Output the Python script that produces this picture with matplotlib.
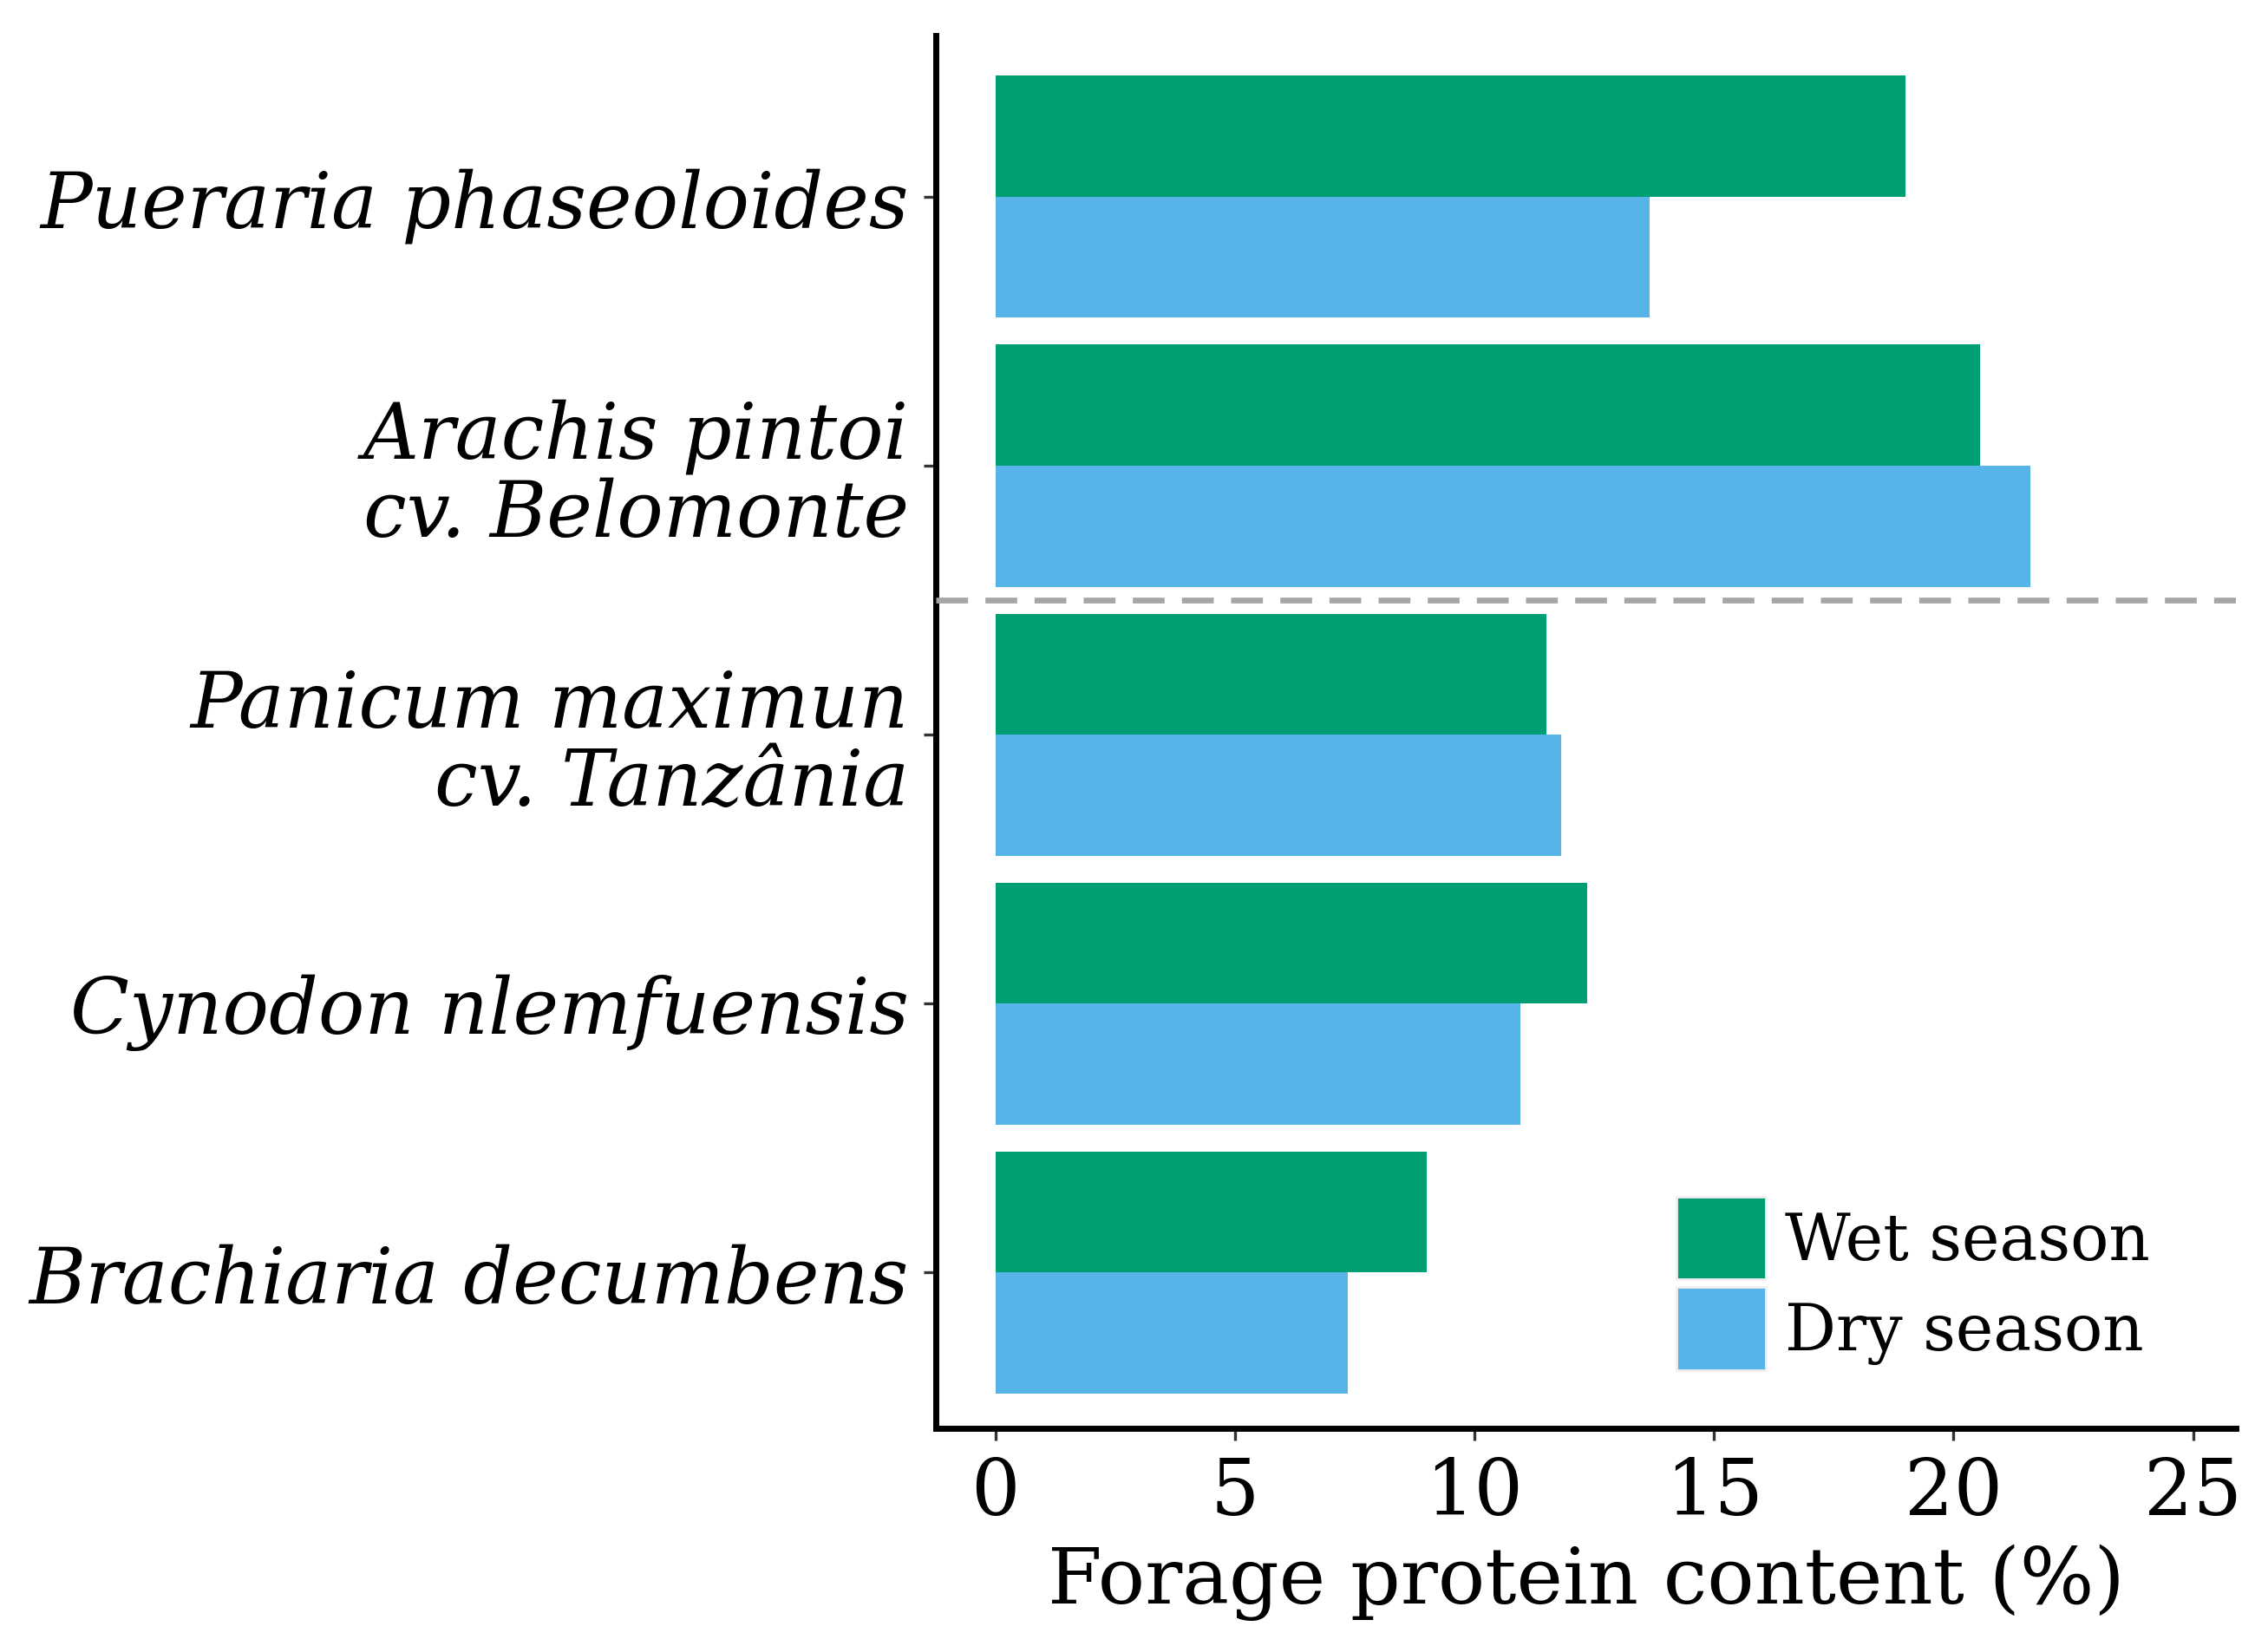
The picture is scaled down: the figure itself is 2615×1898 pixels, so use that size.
"""
Forage protein content by species and season (horizontal grouped bars)
"""
import matplotlib
matplotlib.use('Agg')
import matplotlib.pyplot as plt
from matplotlib.patches import Patch
import numpy as np

# data (bottom to top)
species = ['Brachiaria decumbens',
           'Cynodon nlemfuensis',
           'Panicum maximun\ncv. Tanzânia',
           'Arachis pintoi\ncv. Belomonte',
           'Pueraria phaseoloides']
wet_season = [9.0, 12.35, 11.5, 20.55, 19.0]
dry_season = [7.35, 10.95, 11.8, 21.6, 13.65]

WET_COLOR = '#009E73'
DRY_COLOR = '#56B4E9'

plt.rcParams['font.family'] = ['DejaVu Serif']

fig = plt.figure(figsize=(26.15, 18.99), dpi=100)
ax = fig.add_axes([0.4125, 0.132, 0.5735, 0.846])

y = np.arange(len(species))
h = 0.45
ax.barh(y + h / 2, wet_season, height=h, color=WET_COLOR, label='Wet season')
ax.barh(y - h / 2, dry_season, height=h, color=DRY_COLOR, label='Dry season')

# separator between legumes and grasses
ax.axhline(2.5, color='#A6A6A6', lw=4.8, dashes=(5.5, 3), zorder=3)

ax.set_xlim(-1.25, 25.9)
ax.set_ylim(-0.58, 4.6)
ax.set_xticks([0, 5, 10, 15, 20, 25])
ax.set_yticks(y)
ax.set_yticklabels(species, fontstyle='italic', fontsize=64, linespacing=1.05)
ax.tick_params(axis='x', labelsize=64, pad=12)
ax.tick_params(length=10, width=2.4, color='#333333')
ax.tick_params(axis='y', pad=12)

ax.set_xlabel('Forage protein content (%)', fontsize=65, labelpad=10)

for side in ['top', 'right']:
    ax.spines[side].set_visible(False)
for side in ['left', 'bottom']:
    ax.spines[side].set_linewidth(5)
    ax.spines[side].set_color('black')

handles = [Patch(facecolor=WET_COLOR, edgecolor='#F0F0F0', lw=2),
           Patch(facecolor=DRY_COLOR, edgecolor='#F0F0F0', lw=2)]
ax.legend(handles, ['Wet season', 'Dry season'], loc='lower left',
          bbox_to_anchor=(0.535, 0.01), frameon=False, fontsize=53,
          handlelength=1.41, handleheight=1.62, handletextpad=0.3,
          labelspacing=0.12, borderpad=0.2)

fig.savefig('out.png', dpi=100)
